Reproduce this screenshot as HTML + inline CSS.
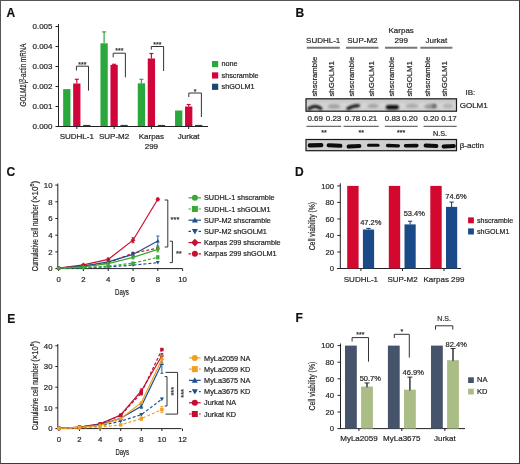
<!DOCTYPE html>
<html><head><meta charset="utf-8"><style>
html,body{margin:0;padding:0;background:#fff;}
body{width:520px;height:464px;overflow:hidden;position:relative;}
svg{display:block;font-family:"Liberation Sans", sans-serif;filter:blur(0.35px);}
text{stroke:#2a2a2a;stroke-width:0.2px;}
.frame{position:absolute;left:0;top:0;width:520px;height:464px;box-sizing:border-box;border-left:1px solid #555;border-top:1px solid #555;border-right:1.5px solid #3a3a3a;border-bottom:1.5px solid #3a3a3a;}
</style></head><body>
<svg width="520" height="464" viewBox="0 0 520 464">
<rect x="0" y="0" width="520" height="464" fill="#fff"/>
<text x="6.5" y="16.5" font-size="12" text-anchor="start" font-weight="bold" fill="#111" >A</text>
<text x="295.5" y="17" font-size="12" text-anchor="start" font-weight="bold" fill="#111" >B</text>
<text x="6.5" y="175.8" font-size="12" text-anchor="start" font-weight="bold" fill="#111" >C</text>
<text x="295" y="175.5" font-size="12" text-anchor="start" font-weight="bold" fill="#111" >D</text>
<text x="7.3" y="322.5" font-size="12" text-anchor="start" font-weight="bold" fill="#111" >E</text>
<text x="295.5" y="322" font-size="12" text-anchor="start" font-weight="bold" fill="#111" >F</text>
<line x1="58.5" y1="24" x2="58.5" y2="127" stroke="#222" stroke-width="1" />
<line x1="58" y1="126.5" x2="208" y2="126.5" stroke="#222" stroke-width="1" />
<line x1="55.5" y1="126.5" x2="58.5" y2="126.5" stroke="#222" stroke-width="1" />
<text x="52.5" y="129.4" font-size="8" text-anchor="end" font-weight="normal" fill="#222" >0.000</text>
<line x1="55.5" y1="106.5" x2="58.5" y2="106.5" stroke="#222" stroke-width="1" />
<text x="52.5" y="109.4" font-size="8" text-anchor="end" font-weight="normal" fill="#222" >0.001</text>
<line x1="55.5" y1="86.5" x2="58.5" y2="86.5" stroke="#222" stroke-width="1" />
<text x="52.5" y="89.4" font-size="8" text-anchor="end" font-weight="normal" fill="#222" >0.002</text>
<line x1="55.5" y1="66.5" x2="58.5" y2="66.5" stroke="#222" stroke-width="1" />
<text x="52.5" y="69.4" font-size="8" text-anchor="end" font-weight="normal" fill="#222" >0.003</text>
<line x1="55.5" y1="46.5" x2="58.5" y2="46.5" stroke="#222" stroke-width="1" />
<text x="52.5" y="49.4" font-size="8" text-anchor="end" font-weight="normal" fill="#222" >0.004</text>
<line x1="55.5" y1="26.5" x2="58.5" y2="26.5" stroke="#222" stroke-width="1" />
<text x="52.5" y="29.4" font-size="8" text-anchor="end" font-weight="normal" fill="#222" >0.005</text>
<rect x="63.15" y="89.10" width="7.3" height="37.40" fill="#2ba83c"/>
<line x1="76.8" y1="79.3" x2="76.8" y2="83.5" stroke="#d0063a" stroke-width="1.2" />
<line x1="74.8" y1="79.3" x2="78.8" y2="79.3" stroke="#d0063a" stroke-width="1.2" />
<rect x="73.15" y="83.50" width="7.3" height="43.00" fill="#d0063a"/>
<rect x="83.15" y="124.90" width="7.3" height="1.60" fill="#1a4777"/>
<line x1="76.8" y1="126.5" x2="76.8" y2="129" stroke="#222" stroke-width="1" />
<line x1="104.1" y1="31.900000000000006" x2="104.1" y2="43.30000000000001" stroke="#2ba83c" stroke-width="1.2" />
<line x1="102.1" y1="31.900000000000006" x2="106.1" y2="31.900000000000006" stroke="#2ba83c" stroke-width="1.2" />
<rect x="100.45" y="43.30" width="7.3" height="83.20" fill="#2ba83c"/>
<line x1="114.1" y1="64.30000000000001" x2="114.1" y2="64.9" stroke="#d0063a" stroke-width="1.2" />
<line x1="112.1" y1="64.30000000000001" x2="116.1" y2="64.30000000000001" stroke="#d0063a" stroke-width="1.2" />
<rect x="110.45" y="64.90" width="7.3" height="61.60" fill="#d0063a"/>
<rect x="120.45" y="124.90" width="7.3" height="1.60" fill="#1a4777"/>
<line x1="114.1" y1="126.5" x2="114.1" y2="129" stroke="#222" stroke-width="1" />
<line x1="141.4" y1="79.3" x2="141.4" y2="83.3" stroke="#2ba83c" stroke-width="1.2" />
<line x1="139.4" y1="79.3" x2="143.4" y2="79.3" stroke="#2ba83c" stroke-width="1.2" />
<rect x="137.75" y="83.30" width="7.3" height="43.20" fill="#2ba83c"/>
<line x1="151.4" y1="53.5" x2="151.4" y2="58.5" stroke="#d0063a" stroke-width="1.2" />
<line x1="149.4" y1="53.5" x2="153.4" y2="53.5" stroke="#d0063a" stroke-width="1.2" />
<rect x="147.75" y="58.50" width="7.3" height="68.00" fill="#d0063a"/>
<rect x="157.75" y="124.90" width="7.3" height="1.60" fill="#1a4777"/>
<line x1="151.4" y1="126.5" x2="151.4" y2="129" stroke="#222" stroke-width="1" />
<rect x="175.05" y="110.50" width="7.3" height="16.00" fill="#2ba83c"/>
<line x1="188.7" y1="104.5" x2="188.7" y2="106.5" stroke="#d0063a" stroke-width="1.2" />
<line x1="186.7" y1="104.5" x2="190.7" y2="104.5" stroke="#d0063a" stroke-width="1.2" />
<rect x="185.05" y="106.50" width="7.3" height="20.00" fill="#d0063a"/>
<rect x="195.05" y="124.90" width="7.3" height="1.60" fill="#1a4777"/>
<line x1="188.7" y1="126.5" x2="188.7" y2="129" stroke="#222" stroke-width="1" />
<line x1="58" y1="126.5" x2="208" y2="126.5" stroke="#222" stroke-width="1" />
<polyline points="76.4,70.5 76.4,66.2 88.5,66.2 88.5,90.6" fill="none" stroke="#333" stroke-width="1"/>
<text x="82.45" y="66.5" font-size="7" text-anchor="middle" font-weight="normal" fill="#333" >***</text>
<polyline points="113.2,57.4 113.2,53.2 125.4,53.2 125.4,77.3" fill="none" stroke="#333" stroke-width="1"/>
<text x="119.30000000000001" y="53.4" font-size="7" text-anchor="middle" font-weight="normal" fill="#333" >***</text>
<polyline points="151.3,49.6 151.3,46.5 163.6,46.5 163.6,71" fill="none" stroke="#333" stroke-width="1"/>
<text x="157.45" y="46.9" font-size="7" text-anchor="middle" font-weight="normal" fill="#333" >***</text>
<polyline points="188.8,97 188.8,93 201.4,93 201.4,117" fill="none" stroke="#333" stroke-width="1"/>
<text x="195.10000000000002" y="93.8" font-size="7" text-anchor="middle" font-weight="normal" fill="#333" >*</text>
<rect x="212" y="61.0" width="6.2" height="6.2" fill="#2ba83c" />
<text x="221.5" y="66.2" font-size="7.25" text-anchor="start" font-weight="normal" fill="#222" >none</text>
<rect x="212" y="72.35" width="6.2" height="6.2" fill="#d0063a" />
<text x="221.5" y="77.55" font-size="7.25" text-anchor="start" font-weight="normal" fill="#222" >shscramble</text>
<rect x="212" y="83.7" width="6.2" height="6.2" fill="#1a4777" />
<text x="221.5" y="88.9" font-size="7.25" text-anchor="start" font-weight="normal" fill="#222" >shGOLM1</text>
<text x="76.8" y="139.2" font-size="8" text-anchor="middle" font-weight="normal" fill="#222" >SUDHL-1</text>
<text x="114.1" y="139.2" font-size="8" text-anchor="middle" font-weight="normal" fill="#222" >SUP-M2</text>
<text x="151.4" y="139.2" font-size="8" text-anchor="middle" font-weight="normal" fill="#222" >Karpas</text>
<text x="188.7" y="139.2" font-size="8" text-anchor="middle" font-weight="normal" fill="#222" >Jurkat</text>
<text x="151.4" y="148.9" font-size="8" text-anchor="middle" font-weight="normal" fill="#222" >299</text>
<text transform="translate(26.4,75) rotate(-90)" font-size="9" text-anchor="middle" fill="#222" textLength="63" lengthAdjust="spacingAndGlyphs"><tspan font-style="italic">GOLM1</tspan>/<tspan font-style="italic">β</tspan>-actin mRNA</text>
<text x="323.2" y="43.2" font-size="8" text-anchor="middle" font-weight="normal" fill="#222" >SUDHL-1</text>
<text x="362.4" y="43.2" font-size="8" text-anchor="middle" font-weight="normal" fill="#222" >SUP-M2</text>
<text x="401.2" y="33.4" font-size="8" text-anchor="middle" font-weight="normal" fill="#222" >Karpas</text>
<text x="401.2" y="43.2" font-size="8" text-anchor="middle" font-weight="normal" fill="#222" >299</text>
<text x="436.4" y="43.2" font-size="8" text-anchor="middle" font-weight="normal" fill="#222" >Jurkat</text>
<line x1="306.8" y1="47.8" x2="339.8" y2="47.8" stroke="#777" stroke-width="2" />
<line x1="346" y1="47.8" x2="378.5" y2="47.8" stroke="#777" stroke-width="2" />
<line x1="385" y1="47.8" x2="417.3" y2="47.8" stroke="#777" stroke-width="2" />
<line x1="420.3" y1="47.8" x2="452.4" y2="47.8" stroke="#777" stroke-width="2" />
<text transform="translate(317.4,96.6) rotate(-90)" font-size="7.8" fill="#222">shscramble</text>
<text transform="translate(333.6,96.6) rotate(-90)" font-size="7.8" fill="#222">shGOLM1</text>
<text transform="translate(353.8,96.6) rotate(-90)" font-size="7.8" fill="#222">shscramble</text>
<text transform="translate(373.5,96.6) rotate(-90)" font-size="7.8" fill="#222">shGOLM1</text>
<text transform="translate(394.3,96.6) rotate(-90)" font-size="7.8" fill="#222">shscramble</text>
<text transform="translate(411.5,96.6) rotate(-90)" font-size="7.8" fill="#222">shGOLM1</text>
<text transform="translate(430.0,96.6) rotate(-90)" font-size="7.8" fill="#222">shscramble</text>
<text transform="translate(447.3,96.6) rotate(-90)" font-size="7.8" fill="#222">shGOLM1</text>
<text x="465.5" y="94.5" font-size="8" text-anchor="start" font-weight="normal" fill="#222" >IB:</text>
<text x="459.7" y="107.6" font-size="8" text-anchor="start" font-weight="normal" fill="#222" >GOLM1</text>
<text x="459.7" y="147.5" font-size="8" text-anchor="start" font-weight="normal" fill="#222" >β-actin</text>
<defs><filter id="bl" x="-30%" y="-60%" width="160%" height="220%"><feGaussianBlur stdDeviation="0.9"/></filter><filter id="bl2" filterUnits="userSpaceOnUse" x="300" y="90" width="170" height="70"><feGaussianBlur stdDeviation="0.7"/></filter><filter id="bl3" filterUnits="userSpaceOnUse" x="300" y="90" width="170" height="70"><feGaussianBlur stdDeviation="0.85"/></filter><linearGradient id="gb" x1="0" y1="0" x2="0" y2="1"><stop offset="0" stop-color="#c4c4c4"/><stop offset="0.5" stop-color="#d6d6d6"/><stop offset="1" stop-color="#cfcfcf"/></linearGradient></defs>
<rect x="306" y="98.8" width="150.5" height="12.4" fill="url(#gb)" stroke="#1a1a1a" stroke-width="1.2"/>
<path d="M309,108.8 Q314.8,104.2 320.8,108.5" fill="none" stroke="#151515" stroke-width="3.2" stroke-linecap="round" filter="url(#bl3)"/>
<path d="M348,108.6 Q352,105.8 358.4,105.6" fill="none" stroke="#1a1a1a" stroke-width="3.3" stroke-linecap="round" filter="url(#bl3)"/>
<path d="M388.2,107.2 L396.6,107.2" fill="none" stroke="#070707" stroke-width="4.6" stroke-linecap="round" filter="url(#bl3)"/>
<ellipse cx="430.6" cy="106.5" rx="6.2" ry="2.5" fill="#999999" filter="url(#bl3)"/>
<ellipse cx="434.2" cy="106.0" rx="2.4" ry="2.2" fill="#6e6e6e" filter="url(#bl3)"/>
<ellipse cx="334.0" cy="106.4" rx="6.3" ry="2.4" fill="#a2a2a2" filter="url(#bl3)"/>
<ellipse cx="373.0" cy="106.0" rx="5.8" ry="2.2" fill="#a6a6a6" filter="url(#bl3)"/>
<ellipse cx="412.0" cy="105.9" rx="6.5" ry="2.3" fill="#acacac" filter="url(#bl3)"/>
<ellipse cx="447.8" cy="106.0" rx="5.0" ry="2.2" fill="#b4b4b4" filter="url(#bl3)"/>
<rect x="306" y="139.5" width="150.5" height="11.2" fill="#d0d0d0" stroke="#1a1a1a" stroke-width="1.2"/>
<line x1="309.8" y1="145.4" x2="321.3" y2="145.2" stroke="#0a0a0a" stroke-width="4.2" stroke-linecap="round" filter="url(#bl2)"/>
<line x1="328.6" y1="145.3" x2="340.4" y2="145.8" stroke="#0a0a0a" stroke-width="4.0" stroke-linecap="round" filter="url(#bl2)"/>
<line x1="348.6" y1="146.6" x2="359.4" y2="146.1" stroke="#0a0a0a" stroke-width="4.0" stroke-linecap="round" filter="url(#bl2)"/>
<line x1="368.5" y1="145.2" x2="378" y2="145.2" stroke="#0a0a0a" stroke-width="3.0" stroke-linecap="round" filter="url(#bl2)"/>
<line x1="387.6" y1="145.5" x2="398.4" y2="145.8" stroke="#0a0a0a" stroke-width="3.3" stroke-linecap="round" filter="url(#bl2)"/>
<line x1="405.6" y1="145.8" x2="416.8" y2="145.6" stroke="#0a0a0a" stroke-width="3.6" stroke-linecap="round" filter="url(#bl2)"/>
<line x1="425.6" y1="145.6" x2="436.4" y2="146" stroke="#0a0a0a" stroke-width="4.0" stroke-linecap="round" filter="url(#bl2)"/>
<line x1="443.6" y1="146.4" x2="453.8" y2="146" stroke="#0a0a0a" stroke-width="4.0" stroke-linecap="round" filter="url(#bl2)"/>
<text x="315.2" y="121.1" font-size="8" text-anchor="middle" font-weight="normal" fill="#222" >0.69</text>
<text x="333.5" y="121.1" font-size="8" text-anchor="middle" font-weight="normal" fill="#222" >0.23</text>
<text x="352.5" y="121.1" font-size="8" text-anchor="middle" font-weight="normal" fill="#222" >0.78</text>
<text x="369.5" y="121.1" font-size="8" text-anchor="middle" font-weight="normal" fill="#222" >0.21</text>
<text x="392.5" y="121.1" font-size="8" text-anchor="middle" font-weight="normal" fill="#222" >0.83</text>
<text x="409.9" y="121.1" font-size="8" text-anchor="middle" font-weight="normal" fill="#222" >0.20</text>
<text x="431.2" y="121.1" font-size="8" text-anchor="middle" font-weight="normal" fill="#222" >0.20</text>
<text x="449" y="121.1" font-size="8" text-anchor="middle" font-weight="normal" fill="#222" >0.17</text>
<line x1="306.5" y1="126.3" x2="341.2" y2="126.3" stroke="#333" stroke-width="0.9" />
<line x1="343.5" y1="126.3" x2="378.7" y2="126.3" stroke="#333" stroke-width="0.9" />
<line x1="384.8" y1="126.3" x2="417.7" y2="126.3" stroke="#333" stroke-width="0.9" />
<line x1="423.6" y1="126.3" x2="456.7" y2="126.3" stroke="#333" stroke-width="0.9" />
<text x="323.9" y="135.1" font-size="7" text-anchor="middle" font-weight="normal" fill="#222" >**</text>
<text x="361.3" y="135.1" font-size="7" text-anchor="middle" font-weight="normal" fill="#222" >**</text>
<text x="401.2" y="135.1" font-size="7" text-anchor="middle" font-weight="normal" fill="#222" >***</text>
<text x="440" y="135.9" font-size="7.2" text-anchor="middle" font-weight="normal" fill="#222" >N.S.</text>
<line x1="57.8" y1="183.5" x2="57.8" y2="269" stroke="#222" stroke-width="1" />
<line x1="57.3" y1="268.6" x2="182.5" y2="268.6" stroke="#222" stroke-width="1" />
<line x1="55.3" y1="268.6" x2="57.8" y2="268.6" stroke="#222" stroke-width="1" />
<text x="52.5" y="271.3" font-size="7.8" text-anchor="end" font-weight="normal" fill="#222" >0</text>
<line x1="55.3" y1="251.90000000000003" x2="57.8" y2="251.90000000000003" stroke="#222" stroke-width="1" />
<text x="52.5" y="254.60000000000002" font-size="7.8" text-anchor="end" font-weight="normal" fill="#222" >2</text>
<line x1="55.3" y1="235.20000000000002" x2="57.8" y2="235.20000000000002" stroke="#222" stroke-width="1" />
<text x="52.5" y="237.9" font-size="7.8" text-anchor="end" font-weight="normal" fill="#222" >4</text>
<line x1="55.3" y1="218.50000000000003" x2="57.8" y2="218.50000000000003" stroke="#222" stroke-width="1" />
<text x="52.5" y="221.20000000000002" font-size="7.8" text-anchor="end" font-weight="normal" fill="#222" >6</text>
<line x1="55.3" y1="201.8" x2="57.8" y2="201.8" stroke="#222" stroke-width="1" />
<text x="52.5" y="204.5" font-size="7.8" text-anchor="end" font-weight="normal" fill="#222" >8</text>
<line x1="55.3" y1="185.10000000000002" x2="57.8" y2="185.10000000000002" stroke="#222" stroke-width="1" />
<text x="52.5" y="187.8" font-size="7.8" text-anchor="end" font-weight="normal" fill="#222" >10</text>
<line x1="58.6" y1="268.6" x2="58.6" y2="271" stroke="#222" stroke-width="1" />
<text x="58.6" y="282" font-size="7.8" text-anchor="middle" font-weight="normal" fill="#222" >0</text>
<line x1="83.4" y1="268.6" x2="83.4" y2="271" stroke="#222" stroke-width="1" />
<text x="83.4" y="282" font-size="7.8" text-anchor="middle" font-weight="normal" fill="#222" >2</text>
<line x1="108.2" y1="268.6" x2="108.2" y2="271" stroke="#222" stroke-width="1" />
<text x="108.2" y="282" font-size="7.8" text-anchor="middle" font-weight="normal" fill="#222" >4</text>
<line x1="133.0" y1="268.6" x2="133.0" y2="271" stroke="#222" stroke-width="1" />
<text x="133.0" y="282" font-size="7.8" text-anchor="middle" font-weight="normal" fill="#222" >6</text>
<line x1="157.8" y1="268.6" x2="157.8" y2="271" stroke="#222" stroke-width="1" />
<text x="157.8" y="282" font-size="7.8" text-anchor="middle" font-weight="normal" fill="#222" >8</text>
<line x1="182.6" y1="268.6" x2="182.6" y2="271" stroke="#222" stroke-width="1" />
<text x="182.6" y="282" font-size="7.8" text-anchor="middle" font-weight="normal" fill="#222" >10</text>
<text x="122" y="294.6" font-size="9.2" text-anchor="middle" font-weight="normal" fill="#222" textLength="13.8" lengthAdjust="spacingAndGlyphs">Days</text>
<text transform="translate(37.6,271.3) rotate(-90)" font-size="9.1" fill="#222" textLength="67.2" lengthAdjust="spacingAndGlyphs">Cumulative cell number</text>
<text transform="translate(37.6,202.8) rotate(-90)" font-size="9.1" fill="#222" textLength="21.9" lengthAdjust="spacingAndGlyphs">(×10<tspan font-size="6.0" dy="-3.4">6</tspan><tspan dy="3.4">)</tspan></text>
<polyline points="58.60,268.18 83.40,266.10 108.20,262.75 133.00,253.15 157.80,248.14" fill="none" stroke="#c8102e" stroke-width="1.2" stroke-dasharray="3,2"/>
<polyline points="58.60,268.18 83.40,264.84 108.20,259.42 133.00,240.21 157.80,199.30" fill="none" stroke="#c8102e" stroke-width="1.2" />
<polyline points="58.60,268.43 83.40,267.77 108.20,266.93 133.00,265.09 157.80,262.59" fill="none" stroke="#1d4f8a" stroke-width="1.2" stroke-dasharray="3,2"/>
<polyline points="58.60,268.18 83.40,266.10 108.20,261.92 133.00,254.41 157.80,241.05" fill="none" stroke="#1d4f8a" stroke-width="1.2" />
<polyline points="58.60,268.43 83.40,267.77 108.20,266.10 133.00,263.17 157.80,257.33" fill="none" stroke="#3aaa35" stroke-width="1.2" stroke-dasharray="3,2"/>
<polyline points="58.60,268.18 83.40,266.93 108.20,263.59 133.00,257.33 157.80,249.40" fill="none" stroke="#3aaa35" stroke-width="1.2" />
<circle cx="58.60" cy="268.18" r="1.72" fill="#c8102e"/>
<circle cx="83.40" cy="266.10" r="1.72" fill="#c8102e"/>
<circle cx="108.20" cy="262.75" r="1.72" fill="#c8102e"/>
<circle cx="133.00" cy="253.15" r="1.72" fill="#c8102e"/>
<circle cx="157.80" cy="248.14" r="1.72" fill="#c8102e"/>
<polygon points="58.60,265.78 61.00,268.18 58.60,270.58 56.20,268.18" fill="#c8102e"/>
<polygon points="83.40,262.44 85.80,264.84 83.40,267.24 81.00,264.84" fill="#c8102e"/>
<line x1="108.2" y1="258.1625" x2="108.2" y2="260.6675" stroke="#c8102e" stroke-width="0.9" />
<line x1="106.7" y1="258.1625" x2="109.7" y2="258.1625" stroke="#c8102e" stroke-width="0.9" />
<line x1="106.7" y1="260.6675" x2="109.7" y2="260.6675" stroke="#c8102e" stroke-width="0.9" />
<polygon points="108.20,257.02 110.60,259.42 108.20,261.81 105.80,259.42" fill="#c8102e"/>
<line x1="133.0" y1="237.70500000000004" x2="133.0" y2="242.71500000000003" stroke="#c8102e" stroke-width="0.9" />
<line x1="131.5" y1="237.70500000000004" x2="134.5" y2="237.70500000000004" stroke="#c8102e" stroke-width="0.9" />
<line x1="131.5" y1="242.71500000000003" x2="134.5" y2="242.71500000000003" stroke="#c8102e" stroke-width="0.9" />
<polygon points="133.00,237.81 135.40,240.21 133.00,242.61 130.60,240.21" fill="#c8102e"/>
<line x1="157.8" y1="198.04250000000002" x2="157.8" y2="200.5475" stroke="#c8102e" stroke-width="0.9" />
<line x1="156.3" y1="198.04250000000002" x2="159.3" y2="198.04250000000002" stroke="#c8102e" stroke-width="0.9" />
<line x1="156.3" y1="200.5475" x2="159.3" y2="200.5475" stroke="#c8102e" stroke-width="0.9" />
<polygon points="157.80,196.90 160.20,199.30 157.80,201.70 155.40,199.30" fill="#c8102e"/>
<polygon points="58.60,270.38 60.55,266.87 56.65,266.87" fill="#1d4f8a"/>
<polygon points="83.40,269.72 85.35,266.21 81.45,266.21" fill="#1d4f8a"/>
<polygon points="108.20,268.88 110.15,265.37 106.25,265.37" fill="#1d4f8a"/>
<polygon points="133.00,267.04 134.95,263.53 131.05,263.53" fill="#1d4f8a"/>
<polygon points="157.80,264.54 159.75,261.03 155.85,261.03" fill="#1d4f8a"/>
<polygon points="58.60,266.23 60.55,269.74 56.65,269.74" fill="#1d4f8a"/>
<polygon points="83.40,264.15 85.35,267.66 81.45,267.66" fill="#1d4f8a"/>
<polygon points="108.20,259.97 110.15,263.48 106.25,263.48" fill="#1d4f8a"/>
<line x1="133.0" y1="252.735" x2="133.0" y2="256.07500000000005" stroke="#1d4f8a" stroke-width="0.9" />
<line x1="131.5" y1="252.735" x2="134.5" y2="252.735" stroke="#1d4f8a" stroke-width="0.9" />
<line x1="131.5" y1="256.07500000000005" x2="134.5" y2="256.07500000000005" stroke="#1d4f8a" stroke-width="0.9" />
<polygon points="133.00,252.46 134.95,255.97 131.05,255.97" fill="#1d4f8a"/>
<line x1="157.8" y1="236.03500000000003" x2="157.8" y2="246.05500000000004" stroke="#1d4f8a" stroke-width="0.9" />
<line x1="156.3" y1="236.03500000000003" x2="159.3" y2="236.03500000000003" stroke="#1d4f8a" stroke-width="0.9" />
<line x1="156.3" y1="246.05500000000004" x2="159.3" y2="246.05500000000004" stroke="#1d4f8a" stroke-width="0.9" />
<polygon points="157.80,239.10 159.75,242.61 155.85,242.61" fill="#1d4f8a"/>
<rect x="56.95" y="266.78" width="3.30" height="3.30" fill="#3aaa35"/>
<rect x="81.75" y="266.12" width="3.30" height="3.30" fill="#3aaa35"/>
<rect x="106.55" y="264.45" width="3.30" height="3.30" fill="#3aaa35"/>
<line x1="133.0" y1="262.33750000000003" x2="133.0" y2="264.00750000000005" stroke="#3aaa35" stroke-width="0.9" />
<line x1="131.5" y1="262.33750000000003" x2="134.5" y2="262.33750000000003" stroke="#3aaa35" stroke-width="0.9" />
<line x1="131.5" y1="264.00750000000005" x2="134.5" y2="264.00750000000005" stroke="#3aaa35" stroke-width="0.9" />
<rect x="131.35" y="261.52" width="3.30" height="3.30" fill="#3aaa35"/>
<line x1="157.8" y1="255.65750000000003" x2="157.8" y2="258.9975" stroke="#3aaa35" stroke-width="0.9" />
<line x1="156.3" y1="255.65750000000003" x2="159.3" y2="255.65750000000003" stroke="#3aaa35" stroke-width="0.9" />
<line x1="156.3" y1="258.9975" x2="159.3" y2="258.9975" stroke="#3aaa35" stroke-width="0.9" />
<rect x="156.15" y="255.68" width="3.30" height="3.30" fill="#3aaa35"/>
<circle cx="58.60" cy="268.18" r="1.72" fill="#3aaa35"/>
<circle cx="83.40" cy="266.93" r="1.72" fill="#3aaa35"/>
<circle cx="108.20" cy="263.59" r="1.72" fill="#3aaa35"/>
<line x1="133.0" y1="255.65750000000003" x2="133.0" y2="258.9975" stroke="#3aaa35" stroke-width="0.9" />
<line x1="131.5" y1="255.65750000000003" x2="134.5" y2="255.65750000000003" stroke="#3aaa35" stroke-width="0.9" />
<line x1="131.5" y1="258.9975" x2="134.5" y2="258.9975" stroke="#3aaa35" stroke-width="0.9" />
<circle cx="133.00" cy="257.33" r="1.72" fill="#3aaa35"/>
<line x1="157.8" y1="246.89000000000001" x2="157.8" y2="251.90000000000003" stroke="#3aaa35" stroke-width="0.9" />
<line x1="156.3" y1="246.89000000000001" x2="159.3" y2="246.89000000000001" stroke="#3aaa35" stroke-width="0.9" />
<line x1="156.3" y1="251.90000000000003" x2="159.3" y2="251.90000000000003" stroke="#3aaa35" stroke-width="0.9" />
<circle cx="157.80" cy="249.40" r="1.72" fill="#3aaa35"/>
<polyline points="164.7,200 167.8,200 167.8,247 164.7,247" fill="none" stroke="#333" stroke-width="1"/>
<polyline points="169.8,241.2 172.4,241.2 172.4,262.6 169.8,262.6" fill="none" stroke="#333" stroke-width="1"/>
<text x="175" y="222.2" font-size="7.5" text-anchor="middle" font-weight="normal" fill="#333" >***</text>
<text x="178.8" y="256.4" font-size="7.5" text-anchor="middle" font-weight="normal" fill="#333" >**</text>
<line x1="188.5" y1="197.8" x2="201" y2="197.8" stroke="#3aaa35" stroke-width="1.2" />
<circle cx="194.90" cy="197.80" r="3.00" fill="#3aaa35"/>
<text x="204.0" y="200.3" font-size="7.3" text-anchor="start" font-weight="normal" fill="#222" >SUDHL-1 shscramble</text>
<line x1="188.5" y1="209.0" x2="201" y2="209.0" stroke="#3aaa35" stroke-width="1.2" stroke-dasharray="2.5,2.5"/>
<rect x="191.90" y="206.00" width="6.00" height="6.00" fill="#3aaa35"/>
<text x="204.0" y="211.5" font-size="7.3" text-anchor="start" font-weight="normal" fill="#222" >SUDHL-1 shGOLM1</text>
<line x1="188.5" y1="220.20000000000002" x2="201" y2="220.20000000000002" stroke="#1d4f8a" stroke-width="1.2" />
<polygon points="194.90,217.20 197.90,222.60 191.90,222.60" fill="#1d4f8a"/>
<text x="204.0" y="222.70000000000002" font-size="7.3" text-anchor="start" font-weight="normal" fill="#222" >SUP-M2 shscramble</text>
<line x1="188.5" y1="231.4" x2="201" y2="231.4" stroke="#1d4f8a" stroke-width="1.2" stroke-dasharray="2.5,2.5"/>
<polygon points="194.90,234.40 197.90,229.00 191.90,229.00" fill="#1d4f8a"/>
<text x="204.0" y="233.9" font-size="7.3" text-anchor="start" font-weight="normal" fill="#222" >SUP-M2 shGOLM1</text>
<line x1="188.5" y1="242.60000000000002" x2="201" y2="242.60000000000002" stroke="#c8102e" stroke-width="1.2" />
<polygon points="194.90,238.80 198.70,242.60 194.90,246.40 191.10,242.60" fill="#c8102e"/>
<text x="204.0" y="245.10000000000002" font-size="7.3" text-anchor="start" font-weight="normal" fill="#222" >Karpas 299 shscramble</text>
<line x1="188.5" y1="253.8" x2="201" y2="253.8" stroke="#c8102e" stroke-width="1.2" stroke-dasharray="2.5,2.5"/>
<circle cx="194.90" cy="253.80" r="3.00" fill="#c8102e"/>
<text x="204.0" y="256.3" font-size="7.3" text-anchor="start" font-weight="normal" fill="#222" >Karpas 299 shGOLM1</text>
<line x1="340.3" y1="183.3" x2="340.3" y2="269" stroke="#222" stroke-width="1" />
<line x1="337.3" y1="268.5" x2="461" y2="268.5" stroke="#222" stroke-width="1" />
<line x1="337.3" y1="268.5" x2="340.3" y2="268.5" stroke="#222" stroke-width="1" />
<text x="334" y="271.2" font-size="7.7" text-anchor="end" font-weight="normal" fill="#222" >0</text>
<line x1="337.3" y1="251.98" x2="340.3" y2="251.98" stroke="#222" stroke-width="1" />
<text x="334" y="254.67999999999998" font-size="7.7" text-anchor="end" font-weight="normal" fill="#222" >20</text>
<line x1="337.3" y1="235.46" x2="340.3" y2="235.46" stroke="#222" stroke-width="1" />
<text x="334" y="238.16" font-size="7.7" text-anchor="end" font-weight="normal" fill="#222" >40</text>
<line x1="337.3" y1="218.94" x2="340.3" y2="218.94" stroke="#222" stroke-width="1" />
<text x="334" y="221.64" font-size="7.7" text-anchor="end" font-weight="normal" fill="#222" >60</text>
<line x1="337.3" y1="202.42000000000002" x2="340.3" y2="202.42000000000002" stroke="#222" stroke-width="1" />
<text x="334" y="205.12" font-size="7.7" text-anchor="end" font-weight="normal" fill="#222" >80</text>
<line x1="337.3" y1="185.9" x2="340.3" y2="185.9" stroke="#222" stroke-width="1" />
<text x="334" y="188.6" font-size="7.7" text-anchor="end" font-weight="normal" fill="#222" >100</text>
<rect x="347.2" y="185.9" width="11.4" height="82.6" fill="#d2082f" />
<line x1="368.5" y1="228.439" x2="368.5" y2="229.5128" stroke="#1a4a88" stroke-width="1.1" />
<line x1="366.3" y1="228.439" x2="370.7" y2="228.439" stroke="#1a4a88" stroke-width="1.1" />
<rect x="362.9" y="229.5128" width="11.2" height="38.9872" fill="#1a4a88" />
<line x1="360.9" y1="268.5" x2="360.9" y2="271" stroke="#222" stroke-width="1" />
<rect x="388.8" y="185.9" width="11.4" height="82.6" fill="#d2082f" />
<line x1="410.1" y1="221.2528" x2="410.1" y2="224.3916" stroke="#1a4a88" stroke-width="1.1" />
<line x1="407.90000000000003" y1="221.2528" x2="412.3" y2="221.2528" stroke="#1a4a88" stroke-width="1.1" />
<rect x="404.5" y="224.3916" width="11.2" height="44.10839999999999" fill="#1a4a88" />
<line x1="402.5" y1="268.5" x2="402.5" y2="271" stroke="#222" stroke-width="1" />
<rect x="430.3" y="185.9" width="11.4" height="82.6" fill="#d2082f" />
<line x1="451.6" y1="202.08960000000002" x2="451.6" y2="206.8804" stroke="#1a4a88" stroke-width="1.1" />
<line x1="449.40000000000003" y1="202.08960000000002" x2="453.8" y2="202.08960000000002" stroke="#1a4a88" stroke-width="1.1" />
<rect x="446.0" y="206.8804" width="11.2" height="61.61959999999999" fill="#1a4a88" />
<line x1="444.0" y1="268.5" x2="444.0" y2="271" stroke="#222" stroke-width="1" />
<text x="370.8" y="225.3" font-size="7.5" text-anchor="middle" font-weight="normal" fill="#222" >47.2%</text>
<text x="414.3" y="216.3" font-size="7.5" text-anchor="middle" font-weight="normal" fill="#222" >53.4%</text>
<text x="456" y="198.6" font-size="7.5" text-anchor="middle" font-weight="normal" fill="#222" >74.6%</text>
<text x="360.9" y="281.5" font-size="8" text-anchor="middle" font-weight="normal" fill="#222" >SUDHL-1</text>
<text x="402.5" y="281.5" font-size="8" text-anchor="middle" font-weight="normal" fill="#222" >SUP-M2</text>
<text x="444.0" y="281.5" font-size="8" text-anchor="middle" font-weight="normal" fill="#222" >Karpas 299</text>
<text transform="translate(314.6,226.1) rotate(-90)" font-size="9" text-anchor="middle" fill="#222" textLength="48.4" lengthAdjust="spacingAndGlyphs">Cell viability (%)</text>
<rect x="468.1" y="217.4" width="5.8" height="5.9" fill="#d2082f" />
<text x="477" y="222.8" font-size="7.1" text-anchor="start" font-weight="normal" fill="#222" >shscramble</text>
<rect x="468.1" y="228.4" width="5.8" height="6.1" fill="#1a4a88" />
<text x="477" y="234" font-size="7.1" text-anchor="start" font-weight="normal" fill="#222" >shGOLM1</text>
<line x1="57.8" y1="344" x2="57.8" y2="429" stroke="#222" stroke-width="1" />
<line x1="57.3" y1="428.6" x2="181.5" y2="428.6" stroke="#222" stroke-width="1" />
<line x1="55.3" y1="428.6" x2="57.8" y2="428.6" stroke="#222" stroke-width="1" />
<text x="52.5" y="431.3" font-size="7.8" text-anchor="end" font-weight="normal" fill="#222" >0</text>
<line x1="55.3" y1="407.90000000000003" x2="57.8" y2="407.90000000000003" stroke="#222" stroke-width="1" />
<text x="52.5" y="410.6" font-size="7.8" text-anchor="end" font-weight="normal" fill="#222" >10</text>
<line x1="55.3" y1="387.20000000000005" x2="57.8" y2="387.20000000000005" stroke="#222" stroke-width="1" />
<text x="52.5" y="389.90000000000003" font-size="7.8" text-anchor="end" font-weight="normal" fill="#222" >20</text>
<line x1="55.3" y1="366.5" x2="57.8" y2="366.5" stroke="#222" stroke-width="1" />
<text x="52.5" y="369.2" font-size="7.8" text-anchor="end" font-weight="normal" fill="#222" >30</text>
<line x1="55.3" y1="345.8" x2="57.8" y2="345.8" stroke="#222" stroke-width="1" />
<text x="52.5" y="348.5" font-size="7.8" text-anchor="end" font-weight="normal" fill="#222" >40</text>
<line x1="58.9" y1="428.6" x2="58.9" y2="431" stroke="#222" stroke-width="1" />
<text x="58.9" y="441.6" font-size="7.8" text-anchor="middle" font-weight="normal" fill="#222" >0</text>
<line x1="79.5" y1="428.6" x2="79.5" y2="431" stroke="#222" stroke-width="1" />
<text x="79.5" y="441.6" font-size="7.8" text-anchor="middle" font-weight="normal" fill="#222" >2</text>
<line x1="100.1" y1="428.6" x2="100.1" y2="431" stroke="#222" stroke-width="1" />
<text x="100.1" y="441.6" font-size="7.8" text-anchor="middle" font-weight="normal" fill="#222" >4</text>
<line x1="120.7" y1="428.6" x2="120.7" y2="431" stroke="#222" stroke-width="1" />
<text x="120.7" y="441.6" font-size="7.8" text-anchor="middle" font-weight="normal" fill="#222" >6</text>
<line x1="141.3" y1="428.6" x2="141.3" y2="431" stroke="#222" stroke-width="1" />
<text x="141.3" y="441.6" font-size="7.8" text-anchor="middle" font-weight="normal" fill="#222" >8</text>
<line x1="161.9" y1="428.6" x2="161.9" y2="431" stroke="#222" stroke-width="1" />
<text x="161.9" y="441.6" font-size="7.8" text-anchor="middle" font-weight="normal" fill="#222" >10</text>
<line x1="182.5" y1="428.6" x2="182.5" y2="431" stroke="#222" stroke-width="1" />
<text x="182.5" y="441.6" font-size="7.8" text-anchor="middle" font-weight="normal" fill="#222" >12</text>
<text x="122.2" y="454.6" font-size="9.2" text-anchor="middle" font-weight="normal" fill="#222" textLength="13.6" lengthAdjust="spacingAndGlyphs">Days</text>
<text transform="translate(37.7,430.2) rotate(-90)" font-size="9.1" fill="#222" textLength="67.2" lengthAdjust="spacingAndGlyphs">Cumulative cell number</text>
<text transform="translate(37.7,361.7) rotate(-90)" font-size="9.1" fill="#222" textLength="20.8" lengthAdjust="spacingAndGlyphs">(×10<tspan font-size="6.0" dy="-3.4">6</tspan><tspan dy="3.4">)</tspan></text>
<polyline points="58.90,428.39 79.50,427.15 100.10,424.05 120.70,415.35 141.30,393.00 161.90,349.53" fill="none" stroke="#c20c32" stroke-width="1.2" stroke-dasharray="3,2"/>
<polyline points="58.90,428.39 79.50,427.15 100.10,423.84 120.70,414.94 141.30,390.93 161.90,355.74" fill="none" stroke="#c20c32" stroke-width="1.2" />
<polyline points="58.90,428.50 79.50,427.77 100.10,425.91 120.70,421.15 141.30,414.73 161.90,399.21" fill="none" stroke="#1d4f8a" stroke-width="1.2" stroke-dasharray="3,2"/>
<polyline points="58.90,428.39 79.50,427.36 100.10,424.46 120.70,418.25 141.30,406.24 161.90,363.40" fill="none" stroke="#1d4f8a" stroke-width="1.2" />
<polyline points="58.90,428.50 79.50,427.98 100.10,426.94 120.70,424.87 141.30,418.66 161.90,409.56" fill="none" stroke="#f0a020" stroke-width="1.2" stroke-dasharray="3,2"/>
<polyline points="58.90,428.39 79.50,427.36 100.10,425.29 120.70,418.66 141.30,402.73 161.90,359.25" fill="none" stroke="#f0a020" stroke-width="1.2" />
<rect x="57.18" y="426.68" width="3.43" height="3.43" fill="#c20c32"/>
<rect x="77.78" y="425.44" width="3.43" height="3.43" fill="#c20c32"/>
<rect x="98.38" y="422.33" width="3.43" height="3.43" fill="#c20c32"/>
<rect x="118.98" y="413.64" width="3.43" height="3.43" fill="#c20c32"/>
<line x1="141.3" y1="390.92600000000004" x2="141.3" y2="395.06600000000003" stroke="#c20c32" stroke-width="0.9" />
<line x1="139.8" y1="390.92600000000004" x2="142.8" y2="390.92600000000004" stroke="#c20c32" stroke-width="0.9" />
<line x1="139.8" y1="395.06600000000003" x2="142.8" y2="395.06600000000003" stroke="#c20c32" stroke-width="0.9" />
<rect x="139.58" y="391.28" width="3.43" height="3.43" fill="#c20c32"/>
<rect x="160.18" y="347.81" width="3.43" height="3.43" fill="#c20c32"/>
<circle cx="58.90" cy="428.39" r="1.79" fill="#c20c32"/>
<circle cx="79.50" cy="427.15" r="1.79" fill="#c20c32"/>
<circle cx="100.10" cy="423.84" r="1.79" fill="#c20c32"/>
<circle cx="120.70" cy="414.94" r="1.79" fill="#c20c32"/>
<line x1="141.3" y1="388.85600000000005" x2="141.3" y2="392.99600000000004" stroke="#c20c32" stroke-width="0.9" />
<line x1="139.8" y1="388.85600000000005" x2="142.8" y2="388.85600000000005" stroke="#c20c32" stroke-width="0.9" />
<line x1="139.8" y1="392.99600000000004" x2="142.8" y2="392.99600000000004" stroke="#c20c32" stroke-width="0.9" />
<circle cx="141.30" cy="390.93" r="1.79" fill="#c20c32"/>
<circle cx="161.90" cy="355.74" r="1.79" fill="#c20c32"/>
<polygon points="58.90,430.52 60.93,426.87 56.87,426.87" fill="#1d4f8a"/>
<polygon points="79.50,429.80 81.53,426.15 77.47,426.15" fill="#1d4f8a"/>
<polygon points="100.10,427.94 102.13,424.29 98.07,424.29" fill="#1d4f8a"/>
<polygon points="120.70,423.18 122.73,419.53 118.67,419.53" fill="#1d4f8a"/>
<polygon points="141.30,416.76 143.33,413.11 139.27,413.11" fill="#1d4f8a"/>
<polygon points="161.90,401.23 163.93,397.58 159.87,397.58" fill="#1d4f8a"/>
<polygon points="58.90,426.37 60.93,430.02 56.87,430.02" fill="#1d4f8a"/>
<polygon points="79.50,425.33 81.53,428.98 77.47,428.98" fill="#1d4f8a"/>
<polygon points="100.10,422.43 102.13,426.08 98.07,426.08" fill="#1d4f8a"/>
<polygon points="120.70,416.22 122.73,419.87 118.67,419.87" fill="#1d4f8a"/>
<line x1="141.3" y1="404.17400000000004" x2="141.3" y2="408.314" stroke="#1d4f8a" stroke-width="0.9" />
<line x1="139.8" y1="404.17400000000004" x2="142.8" y2="404.17400000000004" stroke="#1d4f8a" stroke-width="0.9" />
<line x1="139.8" y1="408.314" x2="142.8" y2="408.314" stroke="#1d4f8a" stroke-width="0.9" />
<polygon points="141.30,404.22 143.33,407.87 139.27,407.87" fill="#1d4f8a"/>
<line x1="161.9" y1="353.45900000000006" x2="161.9" y2="373.331" stroke="#1d4f8a" stroke-width="0.9" />
<line x1="160.4" y1="353.45900000000006" x2="163.4" y2="353.45900000000006" stroke="#1d4f8a" stroke-width="0.9" />
<line x1="160.4" y1="373.331" x2="163.4" y2="373.331" stroke="#1d4f8a" stroke-width="0.9" />
<polygon points="161.90,361.37 163.93,365.02 159.87,365.02" fill="#1d4f8a"/>
<rect x="57.18" y="426.78" width="3.43" height="3.43" fill="#f0a020"/>
<rect x="77.78" y="426.26" width="3.43" height="3.43" fill="#f0a020"/>
<rect x="98.38" y="425.23" width="3.43" height="3.43" fill="#f0a020"/>
<rect x="118.98" y="423.16" width="3.43" height="3.43" fill="#f0a020"/>
<line x1="141.3" y1="417.00800000000004" x2="141.3" y2="420.32000000000005" stroke="#f0a020" stroke-width="0.9" />
<line x1="139.8" y1="417.00800000000004" x2="142.8" y2="417.00800000000004" stroke="#f0a020" stroke-width="0.9" />
<line x1="139.8" y1="420.32000000000005" x2="142.8" y2="420.32000000000005" stroke="#f0a020" stroke-width="0.9" />
<rect x="139.58" y="416.95" width="3.43" height="3.43" fill="#f0a020"/>
<line x1="161.9" y1="406.451" x2="161.9" y2="412.661" stroke="#f0a020" stroke-width="0.9" />
<line x1="160.4" y1="406.451" x2="163.4" y2="406.451" stroke="#f0a020" stroke-width="0.9" />
<line x1="160.4" y1="412.661" x2="163.4" y2="412.661" stroke="#f0a020" stroke-width="0.9" />
<rect x="160.18" y="407.84" width="3.43" height="3.43" fill="#f0a020"/>
<circle cx="58.90" cy="428.39" r="1.79" fill="#f0a020"/>
<circle cx="79.50" cy="427.36" r="1.79" fill="#f0a020"/>
<circle cx="100.10" cy="425.29" r="1.79" fill="#f0a020"/>
<circle cx="120.70" cy="418.66" r="1.79" fill="#f0a020"/>
<circle cx="141.30" cy="402.73" r="1.79" fill="#f0a020"/>
<line x1="161.9" y1="355.115" x2="161.9" y2="363.39500000000004" stroke="#f0a020" stroke-width="0.9" />
<line x1="160.4" y1="355.115" x2="163.4" y2="355.115" stroke="#f0a020" stroke-width="0.9" />
<line x1="160.4" y1="363.39500000000004" x2="163.4" y2="363.39500000000004" stroke="#f0a020" stroke-width="0.9" />
<circle cx="161.90" cy="359.25" r="1.79" fill="#f0a020"/>
<polyline points="164.7,376.6 167,376.6 167,406 164.7,406" fill="none" stroke="#333" stroke-width="1"/>
<polyline points="165.5,372.4 177.6,372.4 177.6,414.1 165.5,414.1" fill="none" stroke="#333" stroke-width="1"/>
<text transform="translate(176.2,391.2) rotate(-90)" font-size="7.5" text-anchor="middle" fill="#333">***</text>
<text transform="translate(185.7,393.4) rotate(-90)" font-size="7.5" text-anchor="middle" fill="#333">***</text>
<line x1="189" y1="357.9" x2="200.7" y2="357.9" stroke="#f0a020" stroke-width="1.2" />
<circle cx="194.80" cy="357.90" r="3.00" fill="#f0a020"/>
<text x="204.1" y="360.5" font-size="7.3" text-anchor="start" font-weight="normal" fill="#222" >MyLa2059 NA</text>
<line x1="189" y1="369.12" x2="200.7" y2="369.12" stroke="#f0a020" stroke-width="1.2" stroke-dasharray="2.5,2.5"/>
<rect x="191.80" y="366.12" width="6.00" height="6.00" fill="#f0a020"/>
<text x="204.1" y="371.72" font-size="7.3" text-anchor="start" font-weight="normal" fill="#222" >MyLa2059 KD</text>
<line x1="189" y1="380.34" x2="200.7" y2="380.34" stroke="#1d4f8a" stroke-width="1.2" />
<polygon points="194.80,377.34 197.80,382.74 191.80,382.74" fill="#1d4f8a"/>
<text x="204.1" y="382.94" font-size="7.3" text-anchor="start" font-weight="normal" fill="#222" >MyLa3675 NA</text>
<line x1="189" y1="391.56" x2="200.7" y2="391.56" stroke="#1d4f8a" stroke-width="1.2" stroke-dasharray="2.5,2.5"/>
<polygon points="194.80,394.56 197.80,389.16 191.80,389.16" fill="#1d4f8a"/>
<text x="204.1" y="394.16" font-size="7.3" text-anchor="start" font-weight="normal" fill="#222" >MyLa3675 KD</text>
<line x1="189" y1="402.78" x2="200.7" y2="402.78" stroke="#c20c32" stroke-width="1.2" />
<circle cx="194.80" cy="402.78" r="3.00" fill="#c20c32"/>
<text x="204.1" y="405.38" font-size="7.3" text-anchor="start" font-weight="normal" fill="#222" >Jurkat NA</text>
<line x1="189" y1="414.0" x2="200.7" y2="414.0" stroke="#c20c32" stroke-width="1.2" stroke-dasharray="2.5,2.5"/>
<rect x="191.80" y="411.00" width="6.00" height="6.00" fill="#c20c32"/>
<text x="204.1" y="416.6" font-size="7.3" text-anchor="start" font-weight="normal" fill="#222" >Jurkat KD</text>
<line x1="340.5" y1="343.5" x2="340.5" y2="429" stroke="#222" stroke-width="1" />
<line x1="340" y1="428.6" x2="465" y2="428.6" stroke="#222" stroke-width="1" />
<line x1="337.5" y1="428.6" x2="340.5" y2="428.6" stroke="#222" stroke-width="1" />
<text x="334" y="431.3" font-size="7.7" text-anchor="end" font-weight="normal" fill="#222" >0</text>
<line x1="337.5" y1="412.0" x2="340.5" y2="412.0" stroke="#222" stroke-width="1" />
<text x="334" y="414.7" font-size="7.7" text-anchor="end" font-weight="normal" fill="#222" >20</text>
<line x1="337.5" y1="395.40000000000003" x2="340.5" y2="395.40000000000003" stroke="#222" stroke-width="1" />
<text x="334" y="398.1" font-size="7.7" text-anchor="end" font-weight="normal" fill="#222" >40</text>
<line x1="337.5" y1="378.8" x2="340.5" y2="378.8" stroke="#222" stroke-width="1" />
<text x="334" y="381.5" font-size="7.7" text-anchor="end" font-weight="normal" fill="#222" >60</text>
<line x1="337.5" y1="362.20000000000005" x2="340.5" y2="362.20000000000005" stroke="#222" stroke-width="1" />
<text x="334" y="364.90000000000003" font-size="7.7" text-anchor="end" font-weight="normal" fill="#222" >80</text>
<line x1="337.5" y1="345.6" x2="340.5" y2="345.6" stroke="#222" stroke-width="1" />
<text x="334" y="348.3" font-size="7.7" text-anchor="end" font-weight="normal" fill="#222" >100</text>
<rect x="345.0" y="345.6" width="11.8" height="83.0" fill="#45536b" />
<line x1="367.0" y1="382.95000000000005" x2="367.0" y2="389.519" stroke="#333" stroke-width="1" />
<line x1="364.5" y1="382.95000000000005" x2="369.5" y2="382.95000000000005" stroke="#333" stroke-width="1" />
<rect x="361.1" y="386.519" width="11.8" height="42.08100000000002" fill="#aabd86" />
<line x1="367.0" y1="382.95000000000005" x2="367.0" y2="387.519" stroke="#333" stroke-width="1" />
<text x="370.3" y="380.8" font-size="7.5" text-anchor="middle" font-weight="normal" fill="#222" >50.7%</text>
<line x1="358.9" y1="428.6" x2="358.9" y2="431" stroke="#222" stroke-width="1" />
<rect x="387.90000000000003" y="345.6" width="11.8" height="83.0" fill="#45536b" />
<line x1="409.90000000000003" y1="377.14000000000004" x2="409.90000000000003" y2="392.673" stroke="#333" stroke-width="1" />
<line x1="407.40000000000003" y1="377.14000000000004" x2="412.40000000000003" y2="377.14000000000004" stroke="#333" stroke-width="1" />
<rect x="404.00000000000006" y="389.673" width="11.8" height="38.92700000000002" fill="#aabd86" />
<line x1="409.90000000000003" y1="377.14000000000004" x2="409.90000000000003" y2="390.673" stroke="#333" stroke-width="1" />
<text x="413.2" y="374.8" font-size="7.5" text-anchor="middle" font-weight="normal" fill="#222" >46.9%</text>
<line x1="401.8" y1="428.6" x2="401.8" y2="431" stroke="#222" stroke-width="1" />
<rect x="431.0" y="345.6" width="11.8" height="83.0" fill="#45536b" />
<line x1="453.0" y1="348.505" x2="453.0" y2="363.208" stroke="#333" stroke-width="1" />
<line x1="450.5" y1="348.505" x2="455.5" y2="348.505" stroke="#333" stroke-width="1" />
<rect x="447.1" y="360.208" width="11.8" height="68.392" fill="#aabd86" />
<line x1="453.0" y1="348.505" x2="453.0" y2="361.208" stroke="#333" stroke-width="1" />
<text x="456.2" y="347" font-size="7.5" text-anchor="middle" font-weight="normal" fill="#222" >82.4%</text>
<line x1="444.9" y1="428.6" x2="444.9" y2="431" stroke="#222" stroke-width="1" />
<text x="358.9" y="441" font-size="8" text-anchor="middle" font-weight="normal" fill="#222" >MyLa2059</text>
<text x="401.8" y="441" font-size="8" text-anchor="middle" font-weight="normal" fill="#222" >MyLa3675</text>
<text x="444.9" y="441" font-size="8" text-anchor="middle" font-weight="normal" fill="#222" >Jurkat</text>
<polyline points="352.1,341.5 352.1,337.6 368.5,337.6 368.5,361.7" fill="none" stroke="#333" stroke-width="1"/>
<text x="360.3" y="337.3" font-size="7" text-anchor="middle" font-weight="normal" fill="#333" >***</text>
<polyline points="394.3,338 394.3,334.3 409.3,334.3 409.3,357.5" fill="none" stroke="#333" stroke-width="1"/>
<text x="401.8" y="334.2" font-size="7" text-anchor="middle" font-weight="normal" fill="#333" >*</text>
<polyline points="435.5,329.6 435.5,325.8 452.8,325.8 452.8,329.6" fill="none" stroke="#333" stroke-width="1"/>
<text x="444.15" y="321.2" font-size="7" text-anchor="middle" font-weight="normal" fill="#333" >N.S.</text>
<text transform="translate(314.6,386.1) rotate(-90)" font-size="9" text-anchor="middle" fill="#222" textLength="48.7" lengthAdjust="spacingAndGlyphs">Cell viability (%)</text>
<rect x="468.1" y="377.3" width="5.7" height="5.7" fill="#45536b" />
<text x="477" y="382.4" font-size="7.5" text-anchor="start" font-weight="normal" fill="#222" >NA</text>
<rect x="468.1" y="388.7" width="5.7" height="5.8" fill="#aabd86" />
<text x="477" y="393.9" font-size="7.5" text-anchor="start" font-weight="normal" fill="#222" >KD</text>
</svg>
<div class="frame"></div>
</body></html>
